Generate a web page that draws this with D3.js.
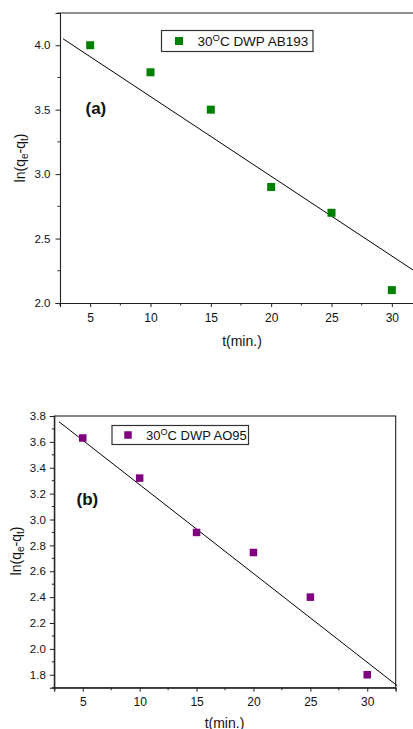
<!DOCTYPE html>
<html>
<head>
<meta charset="utf-8">
<script src="https://cdn.jsdelivr.net/npm/d3@7"></script>
<style>
  html, body { margin: 0; padding: 0; background: #fff; }
  svg { display: block; font-family: "Liberation Sans", Arial, sans-serif; }
</style>
</head>
<body>
<svg id="chart" width="413" height="729"></svg>
<script>
// ---------- data ----------
const timeMin = [5, 10, 15, 20, 25, 30];
const lnA = [4.00, 3.79, 3.50, 2.90, 2.70, 2.10];   // 30°C DWP AB193
const lnB = [3.63, 3.32, 2.90, 2.745, 2.40, 1.80];  // 30°C DWP AO95
const fitA_t = [2.75, 32.5];
const fitA_y = [4.05, 2.21];
const fitB_t = [2.91, 32.64];
const fitB_y = [3.756, 1.715];
const xTicks = [5, 10, 15, 20, 25, 30];
const yTicksA = [2.0, 2.5, 3.0, 3.5, 4.0];
const yTicksB = [1.8, 2.0, 2.2, 2.4, 2.6, 2.8, 3.0, 3.2, 3.4, 3.6, 3.8];
const xDomain = [2.5, 32.5];
const yDomainA = [2.0, 4.25];
const yDomainB = [1.7, 3.8];

const svg = d3.select("#chart");

function panel(cfg) {
  const g = svg.append("g");
  const x = d3.scaleLinear().domain(xDomain).range([cfg.left, cfg.right]);
  const y = d3.scaleLinear().domain(cfg.yDomain).range([cfg.bottom, cfg.top]);
  const axisColor = "#222";

  // frame
  if (cfg.box) {
    g.append("rect").attr("x", cfg.left).attr("y", cfg.top)
      .attr("width", cfg.right - cfg.left).attr("height", cfg.bottom - cfg.top)
      .attr("fill", "none").attr("stroke", axisColor).attr("stroke-width", 1.1);
  } else {
    g.append("line").attr("x1", cfg.left).attr("x2", cfg.right)
      .attr("y1", cfg.top).attr("y2", cfg.top)
      .attr("stroke", axisColor).attr("stroke-width", 1.1);
  }

  // x axis
  const xAxisG = g.append("g").attr("transform", `translate(0,${cfg.bottom})`)
    .call(d3.axisBottom(x).tickValues(xTicks).tickSize(4).tickPadding(cfg.xPad).tickFormat(d3.format("d")));
  xAxisG.select(".domain").attr("stroke", axisColor).attr("stroke-width", 1.1);
  xAxisG.selectAll(".tick line").attr("stroke", axisColor);
  xAxisG.selectAll("text").attr("font-size", 12).attr("fill", "#111")
    .attr("font-family", "Liberation Sans, Arial, sans-serif");
  const xMinor = d3.range(xDomain[0], xDomain[1] + 0.01, 5);
  g.append("g").selectAll("line").data(xMinor).join("line")
    .attr("x1", d => x(d)).attr("x2", d => x(d))
    .attr("y1", cfg.bottom).attr("y2", cfg.bottom + 2.5)
    .attr("stroke", axisColor);

  // y axis
  const yAxisG = g.append("g").attr("transform", `translate(${cfg.left},0)`)
    .call(d3.axisLeft(y).tickValues(cfg.yTicks).tickSize(4.5).tickPadding(cfg.yPad).tickFormat(d3.format(".1f")));
  yAxisG.select(".domain").attr("stroke", axisColor).attr("stroke-width", 1.1);
  yAxisG.selectAll(".tick line").attr("stroke", axisColor);
  yAxisG.selectAll("text").attr("font-size", 11.5).attr("fill", "#111")
    .attr("font-family", "Liberation Sans, Arial, sans-serif");
  g.append("g").selectAll("line").data(cfg.yMinor).join("line")
    .attr("x1", cfg.left - 2.5).attr("x2", cfg.left)
    .attr("y1", d => y(d)).attr("y2", d => y(d))
    .attr("stroke", axisColor);

  // fit line
  const fitPts = cfg.fitT.map((t, i) => [t, cfg.fitY[i]]);
  g.append("path").datum(fitPts)
    .attr("d", d3.line().x(d => x(d[0])).y(d => y(d[1])))
    .attr("fill", "none").attr("stroke", "#000").attr("stroke-width", 1);

  // points
  const s = cfg.marker;
  g.append("g").selectAll("rect").data(timeMin.map((t, i) => [t, cfg.values[i]])).join("rect")
    .attr("x", d => x(d[0]) - s / 2).attr("y", d => y(d[1]) - s / 2)
    .attr("width", s).attr("height", s)
    .attr("fill", cfg.color);

  // legend
  const L = cfg.legend;
  g.append("rect").attr("x", L.x).attr("y", L.y).attr("width", L.w).attr("height", L.h)
    .attr("fill", "#fff").attr("stroke", "#333").attr("stroke-width", 1.2);
  g.append("rect").attr("x", L.mx - s / 2).attr("y", L.y + L.h / 2 - s / 2)
    .attr("width", s).attr("height", s).attr("fill", cfg.color);
  const lt = g.append("text").attr("x", L.tx).attr("y", L.y + L.h / 2 + 5)
    .attr("font-size", L.fs).attr("fill", "#111");
  lt.append("tspan").text("30");
  lt.append("tspan").attr("dy", -5).attr("font-size", L.fs * 0.7).text("O");
  lt.append("tspan").attr("dy", 5).text("C " + cfg.name);

  // panel label
  g.append("text").attr("x", cfg.labX).attr("y", cfg.labY)
    .attr("font-size", 17).attr("font-weight", "bold").attr("fill", "#111").text(cfg.label);

  // x title
  g.append("text").attr("x", cfg.xtX).attr("y", cfg.xtY).attr("text-anchor", "middle")
    .attr("font-size", 14).attr("fill", "#111").text("t(min.)");

  // y title
  const yt = g.append("text")
    .attr("transform", `translate(${cfg.ytX},${cfg.ytY}) rotate(-90)`)
    .attr("text-anchor", "middle").attr("font-size", 14).attr("fill", "#111");
  yt.append("tspan").text("ln(q");
  yt.append("tspan").attr("dy", 3).attr("font-size", 10).text("e");
  yt.append("tspan").attr("dy", -3).text("-q");
  yt.append("tspan").attr("dy", 3).attr("font-size", 10).text("t");
  yt.append("tspan").attr("dy", -3).text(")");
}

panel({
  left: 60, right: 422, top: 13, bottom: 303,
  yDomain: yDomainA, yTicks: yTicksA,
  yMinor: [2.25, 2.75, 3.25, 3.75, 4.25],
  xPad: 6, yPad: 5,
  values: lnA, fitT: fitA_t, fitY: fitA_y,
  color: "#008000", marker: 8, box: false,
  name: "DWP AB193",
  legend: { x: 161.5, y: 30.5, w: 151.5, h: 21, mx: 179, tx: 197.5, fs: 13.5 },
  label: "(a)", labX: 85.5, labY: 114,
  xtX: 242, xtY: 346,
  ytX: 25, ytY: 158
});

panel({
  left: 54.3, right: 395.7, top: 416, bottom: 687.7,
  yDomain: yDomainB, yTicks: yTicksB,
  yMinor: [1.7, 1.9, 2.1, 2.3, 2.5, 2.7, 2.9, 3.1, 3.3, 3.5, 3.7],
  xPad: 6, yPad: 4,
  values: lnB, fitT: fitB_t, fitY: fitB_y,
  color: "#800080", marker: 7.5, box: true,
  name: "DWP AO95",
  legend: { x: 112, y: 425.5, w: 136.5, h: 19, mx: 128, tx: 146, fs: 13 },
  label: "(b)", labX: 76.5, labY: 504.5,
  xtX: 224.5, xtY: 727.5,
  ytX: 20.5, ytY: 551
});
</script>
</body>
</html>
